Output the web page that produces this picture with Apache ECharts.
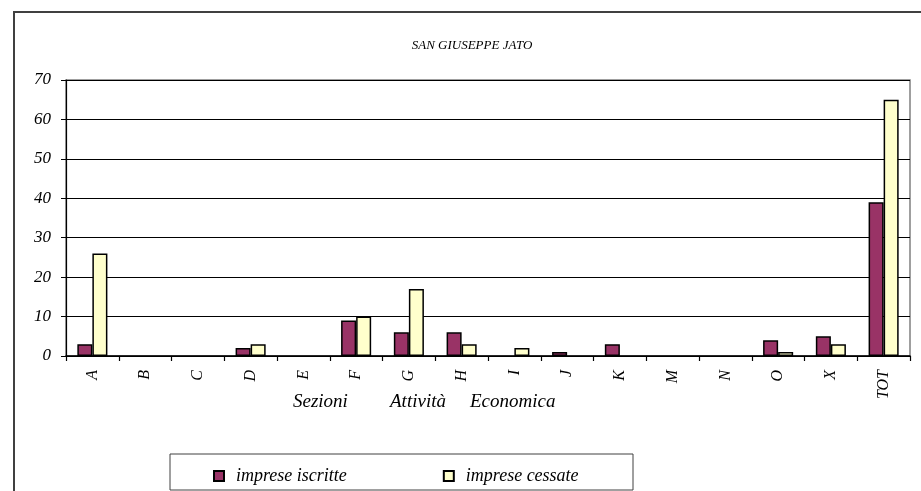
<!DOCTYPE html>
<html>
<head>
<meta charset="utf-8">
<script src="https://cdn.jsdelivr.net/npm/echarts@6/dist/echarts.min.js"></script>
<style>
html,body{margin:0;padding:0;background:#fff;}
#c{width:921px;height:491px;}
</style>
</head>
<body>
<div id="c"></div>
<script>
const categories = ['A','B','C','D','E','F','G','H','I','J','K','M','N','O','X','TOT'];
const iscritte = [3,0,0,2,0,9,6,6,0,1,3,0,0,4,5,39];
const cessate = [26,0,0,3,0,10,17,3,2,0,0,0,0,1,3,65];
const seriesNames = ['imprese iscritte','imprese cessate'];
const titleText = 'SAN GIUSEPPE JATO';
const axisWords = ['Sezioni','Attività','Economica'];

// zero values are not drawn as bars in the original
const toBars = arr => arr.map(v => (v === 0 ? '-' : v));

const FONT = "'Liberation Serif','Times New Roman',serif";
const chart = echarts.init(document.getElementById('c'), null, {renderer:'canvas'});
chart.setOption({
  animation:false,
  backgroundColor:'#fff',
  title:{
    text:titleText, left:467, top:34, textAlign:'center',
    textStyle:{fontFamily:FONT, fontStyle:'italic', fontWeight:'normal', fontSize:13, color:'#000'}
  },
  grid:{left:66, right:11, top:80, bottom:135, show:true, borderColor:'#808080', borderWidth:1.5, backgroundColor:'#fff'},
  legend:{
    left:208, top:462, itemWidth:10, itemHeight:10, itemGap:96,
    icon:'rect',
    textStyle:{fontFamily:FONT, fontStyle:'italic', fontSize:18, color:'#000', padding:[0,0,0,7]},
    data:seriesNames
  },
  xAxis:{
    type:'category', data:categories, boundaryGap:true,
    axisLine:{lineStyle:{color:'#000', width:1.5}},
    axisTick:{show:true, length:5, lineStyle:{color:'#000', width:1.2}},
    axisLabel:{rotate:90, margin:14, fontFamily:FONT, fontStyle:'italic', fontSize:16, color:'#000'}
  },
  yAxis:{
    type:'value', min:0, max:70, interval:10,
    axisLine:{show:true, lineStyle:{color:'#000', width:1.2}},
    axisTick:{show:true, length:5, lineStyle:{color:'#000'}},
    axisLabel:{margin:15, fontFamily:FONT, fontStyle:'italic', fontSize:17, color:'#000'},
    splitLine:{show:true, lineStyle:{color:'#000', width:1}}
  },
  series:[
    {name:seriesNames[0], type:'bar', data:toBars(iscritte), barGap:'0%', barCategoryGap:'43%',
     itemStyle:{color:'#993366', borderColor:'#000', borderWidth:1.5}},
    {name:seriesNames[1], type:'bar', data:toBars(cessate), barGap:'0%', barCategoryGap:'43%',
     itemStyle:{color:'#FFFFCC', borderColor:'#000', borderWidth:1.5}}
  ],
  graphic:[
    {type:'rect', z:-1, shape:{x:14, y:12, width:1000, height:600}, style:{fill:'none', stroke:'#404040', lineWidth:2}},
    {type:'rect', z:0, shape:{x:170, y:454, width:463, height:36}, style:{fill:'#fff', stroke:'#404040', lineWidth:1}},
    {type:'text', left:293, top:392, style:{text:axisWords[0], font:"italic 19px 'Liberation Serif'", fill:'#000'}},
    {type:'text', left:390, top:392, style:{text:axisWords[1], font:"italic 19px 'Liberation Serif'", fill:'#000'}},
    {type:'text', left:470, top:392, style:{text:axisWords[2], font:"italic 19px 'Liberation Serif'", fill:'#000'}}
  ]
});
</script>
</body>
</html>
